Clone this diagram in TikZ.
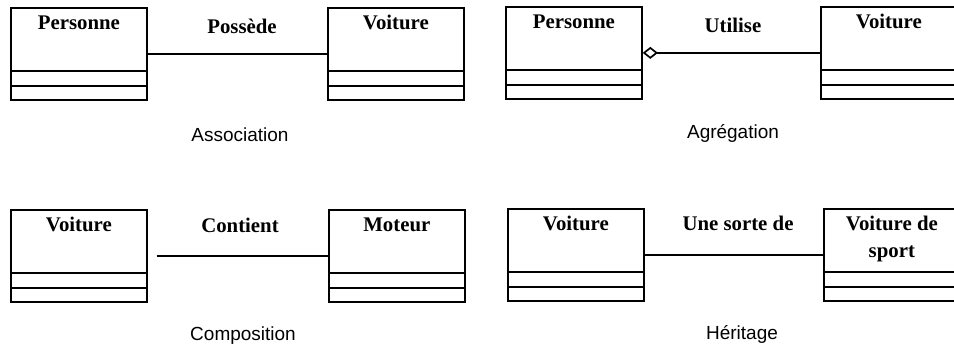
\documentclass[tikz,border=0pt]{standalone}
\usepackage{fontspec}
\setmainfont{Liberation Serif}
\newfontfamily\legendefont{Liberation Sans}
\usetikzlibrary{arrows.meta}

\begin{document}
\begin{tikzpicture}[x=0.025cm,y=-0.025cm,line width=1.2pt]
    \tikzstyle{classe}=[draw,anchor=north west,minimum width=3.4cm,inner xsep=2pt,inner ysep=0.2cm,
      text height=0.35cm,text depth=1.55cm,align=center,font=\fontsize{14.8}{19}\selectfont\bfseries,
      path picture={
        \draw ([yshift=0.725cm]path picture bounding box.south west) -- ([yshift=0.725cm]path picture bounding box.south east);
        \draw ([yshift=0.34cm]path picture bounding box.south west) -- ([yshift=0.34cm]path picture bounding box.south east);}]
    \tikzstyle{classe2}=[classe,text height=0.35cm+19pt,text depth=1.55cm-19pt]
    \tikzstyle{relation}=[anchor=base,font=\fontsize{14.8}{18}\selectfont\bfseries]
    \tikzstyle{legende}=[anchor=base,font=\legendefont\fontsize{13.5}{16}\selectfont]
    \path[use as bounding box,clip] (0,0) rectangle (954,350);
    % association
    \node[classe] (A_pers) at (10,7) {Personne};
    \node[classe] (A_voit) at (327,7) {Voiture};
    \node[relation] (A_rel) at (242,33) {Possède};
    \node[legende] (A_leg) at (240,141) {Association};
    \draw (A_pers.east) -- (A_pers.east -| A_voit.west);
    % agregation
    \node[classe] (B_pers) at (505,6) {Personne};
    \node[classe] (B_voit) at (820,6) {Voiture};
    \node[relation] (B_rel) at (733,32) {Utilise};
    \node[legende] (B_leg) at (733,138) {Agrégation};
    \draw [{Diamond[open,length=0.38cm,width=0.3cm]}-] (B_pers.east) -- (B_pers.east -| B_voit.west);
    % composition
    \node[classe] (C_voit) at (10,209) {Voiture};
    \node[classe] (C_mot) at (328,209) {Moteur};
    \node[relation] (C_rel) at (240,232) {Contient};
    \node[legende] (C_leg) at (243,340) {Composition};
    \draw [shorten <=0.225cm] (C_voit.east) -- (C_voit.east -| C_mot.west);
    % heritage
    \node[classe] (D_voit) at (507,208) {Voiture};
    \node[classe2] (D_sport) at (823,208) {Voiture de\\sport};
    \node[relation] (D_rel) at (738,230) {Une sorte de};
    \node[legende] (D_leg) at (742,339) {Héritage};
    \draw (D_voit.east) -- (D_voit.east -| D_sport.west);
\end{tikzpicture}
\end{document}
